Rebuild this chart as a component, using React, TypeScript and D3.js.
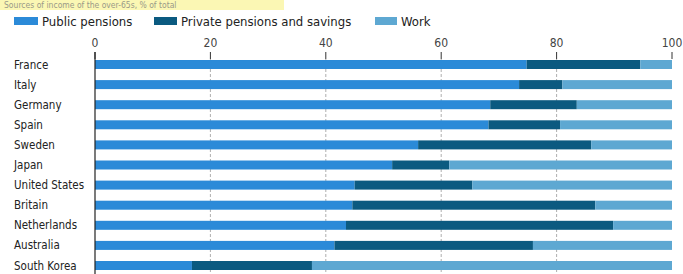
import React from "react";
import * as d3 from "d3";

const countries = ["France", "Italy", "Germany", "Spain", "Sweden", "Japan", "United States", "Britain", "Netherlands", "Australia", "South Korea"];
const publicPensions = [74.8, 73.5, 68.5, 68.2, 56, 51.5, 45, 44.6, 43.5, 41.5, 16.8];
const privatePensions = [19.7, 7.5, 15, 12.4, 30, 9.9, 20.4, 42.1, 46.3, 34.4, 20.8];
const work = [5.5, 19, 16.5, 19.4, 14, 38.6, 34.6, 13.3, 10.2, 24.1, 62.4];
const seriesNames = ["Public pensions", "Private pensions and savings", "Work"];
const tickValues = [0, 20, 40, 60, 80, 100];

const colors = ["#2b8ad8", "#0b5a80", "#5ea8d2"];
const FONT = "'DejaVu Sans Condensed', 'Liberation Sans Narrow', 'Roboto', sans-serif";

export default function App() {
  const W = 683, H = 274;
  const x = d3.scaleLinear().domain([0, 100]).range([95, 672]);
  const y = d3.scalePoint<string>().domain(countries).range([64.5, 265.5]);
  const barH = 9;

  const rows = countries.map((c, i) => ({ country: c, pub: publicPensions[i], priv: privatePensions[i], work: work[i] }));
  const stack = d3.stack<any>().keys(["pub", "priv", "work"]);
  const series = stack(rows);

  const legendItems = [
    { x: 14, w: 24, tx: 42 },
    { x: 154, w: 23, tx: 181 },
    { x: 375, w: 22, tx: 401 },
  ];

  return (
    <svg width={W} height={H} style={{ position: "absolute", left: 0, top: 0, background: "#fff" }} fontFamily={FONT}>
      <rect x={0} y={0} width={284} height={10} fill="#fbf7b4" />
      <text x={4} y={8} fontSize={8.5} fill="#9a9a88">Sources of income of the over-65s, % of total</text>

      {seriesNames.map((name, i) => (
        <g key={name}>
          <rect x={legendItems[i].x} y={17} width={legendItems[i].w} height={8} fill={colors[i]} />
          <text x={legendItems[i].tx} y={26} fontSize={13} fill="#222">{name}</text>
        </g>
      ))}

      {tickValues.map((t) => (
        <g key={t}>
          <text x={x(t)} y={47} fontSize={12} textAnchor="middle" fill="#444">{t}</text>
          <line x1={x(t)} x2={x(t)} y1={52} y2={59} stroke="#333" strokeWidth={1} />
          {t > 0 && t < 100 && (
            <line x1={x(t)} x2={x(t)} y1={59} y2={274} stroke="#999" strokeWidth={0.8} strokeDasharray="3,2" />
          )}
        </g>
      ))}

      {series.map((s, si) => (
        <g key={si} fill={colors[si]}>
          {s.map((d, i) => (
            <rect key={i} x={x(d[0])} y={(y(countries[i]) as number) - barH / 2} width={x(d[1]) - x(d[0])} height={barH} />
          ))}
        </g>
      ))}

      <line x1={x(0)} x2={x(0)} y1={52} y2={274} stroke="#222" strokeWidth={1.2} />

      {countries.map((c) => (
        <text key={c} x={14} y={(y(c) as number) + 4} fontSize={11.5} fill="#222">{c}</text>
      ))}
    </svg>
  );
}
